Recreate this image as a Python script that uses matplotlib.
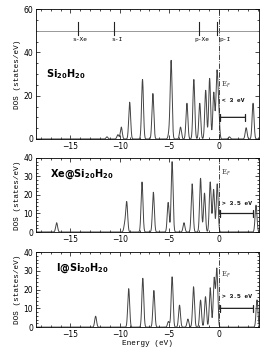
import numpy as np
import matplotlib
matplotlib.use("Agg")
import matplotlib.pyplot as plt
from matplotlib.ticker import MultipleLocator

# peak positions (eV) and heights (states/eV)
si_pos = [-11.3, -10.2, -9.85, -9.0, -7.7, -6.65, -5.0, -4.8, -3.85, -3.2,
          -2.5, -1.9, -1.3, -0.9, -0.48, -0.17, 0.0, 1.1, 2.8, 3.5]
si_h = [1.0, 2.0, 5.5, 17, 27.5, 21, 3, 36, 5.5, 16.5,
        27.5, 16.5, 22.5, 28, 21.5, 28.5, 14, 1.0, 5.2, 16.5]

xe_pos = [-16.4, -9.5, -9.3, -7.75, -6.6, -5.1, -4.7, -3.5, -2.67, -1.82,
          -1.42, -0.84, -0.5, -0.13, 3.8]
xe_h = [5, 4, 16, 27, 21.5, 16, 38, 5, 26, 29,
        21, 27, 23, 26, 14.5]

i_pos = [-12.45, -9.1, -7.67, -6.55, -5.07, -4.7, -3.95, -3.1, -2.53, -1.82,
         -1.32, -0.84, -0.44, -0.17, 3.9]
i_h = [5.8, 20.5, 26, 19.5, 3, 26.8, 11.7, 4.3, 21.5, 14.4,
       16.2, 21, 26, 31, 14.5]

# atomic levels marked in top panel
lev_pos = [-14.25, -10.57, -1.93, -0.13]
lev_lab = ["s-Xe", "s-I", "p-Xe", "p-I"]

panels = [
    (si_pos, si_h, r"Si$_{\mathbf{20}}$H$_{\mathbf{20}}$", 60, 20, 5, "< 3 eV", 2.7, -17.5),
    (xe_pos, xe_h, r"Xe@Si$_{\mathbf{20}}$H$_{\mathbf{20}}$", 40, 10, 2, "> 3.5 eV", 3.5, -17.1),
    (i_pos, i_h, r"I@Si$_{\mathbf{20}}$H$_{\mathbf{20}}$", 40, 10, 2, "> 3.5 eV", 3.5, -16.5),
]

E = np.linspace(-18.5, 4.1, 4000)
sig = 0.095

fig = plt.figure(figsize=(2.64, 3.51), dpi=100)
rects = [[0.136, 0.604, 0.845, 0.370],
         [0.136, 0.339, 0.845, 0.211],
         [0.136, 0.068, 0.845, 0.214]]

mono = "Liberation Mono"
for k, (pos, hts, lab, ymax, maj, mnr, gap_txt, gap_end, lab_x) in enumerate(panels):
    ax = fig.add_axes(rects[k])
    dos = np.zeros_like(E)
    for p, h in zip(pos, hts):
        dos += h * np.exp(-0.5 * ((E - p) / sig) ** 2)
    ax.plot(E, dos, color="#444444", lw=0.7)
    ax.set_xlim(-18.5, 4.1)
    ax.set_ylim(0, ymax)
    ax.axvline(0, color="#222222", lw=0.6, ls="-.")
    ax.xaxis.set_major_locator(MultipleLocator(5))
    ax.xaxis.set_minor_locator(MultipleLocator(1))
    ax.yaxis.set_major_locator(MultipleLocator(maj))
    ax.yaxis.set_minor_locator(MultipleLocator(mnr))
    ax.tick_params(which="both", direction="in", top=True, right=True,
                   labelsize=5.5, width=0.5, pad=2)
    ax.tick_params(which="major", length=3)
    ax.tick_params(which="minor", length=1.5)
    for s in ax.spines.values():
        s.set_linewidth(0.6)
    ax.set_ylabel("DOS (states/eV)", fontsize=5.5, family=mono, labelpad=2)
    if k == 2:
        ax.set_xlabel("Energy (eV)", fontsize=5.5, family=mono, labelpad=1)

    ax.text(lab_x, ymax * 0.5 if k == 0 else ymax * 0.78, lab,
            fontsize=7, fontweight="bold", va="center")
    ax.text(0.3, ymax * (0.42 if k == 0 else 0.8 if k == 1 else 0.69),
            r"E$_F$", fontsize=5, family="DejaVu Serif", color="#444444", va="center")
    ax.text(0.4, ymax * (0.3 if k == 0 else 0.39 if k == 1 else 0.41),
            gap_txt, fontsize=4.5, family=mono, fontweight="bold", va="center")
    ax.annotate("", xy=(0.15, 10), xytext=(gap_end, 10),
                arrowprops=dict(arrowstyle="|-|,widthA=0.25,widthB=0.25",
                                lw=0.9, color="#222222", mutation_scale=10,
                                shrinkA=0, shrinkB=0))

    if k == 0:
        ax.axhline(50, color="#888888", lw=0.6)
        for p, t in zip(lev_pos, lev_lab):
            ax.plot([p, p], [48, 54], color="#222222", lw=0.8)
            ax.text(p + 0.25, 46, t, fontsize=4.5, family=mono,
                    ha="center" if t != "p-I" else "left", va="center")

fig.savefig("out.png", dpi=100)
